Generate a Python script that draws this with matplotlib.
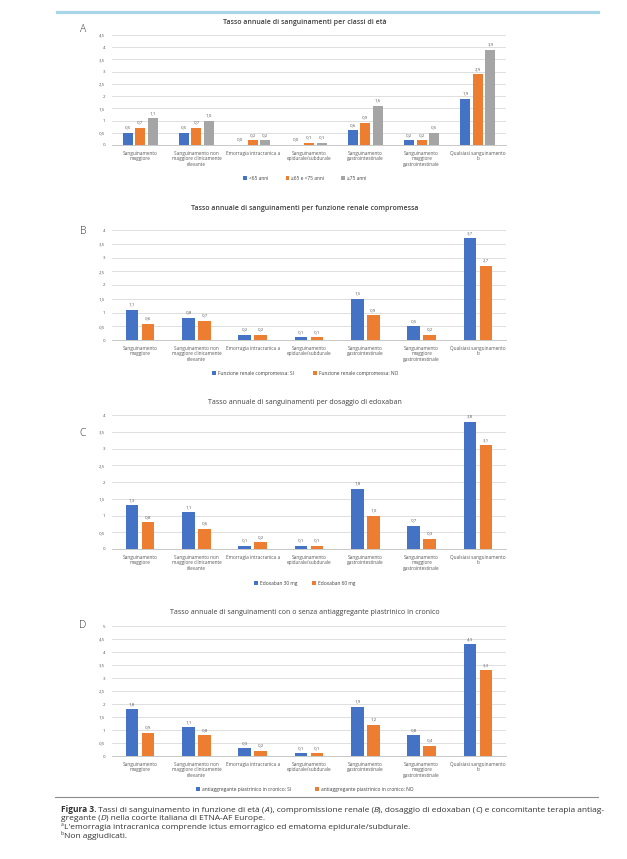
import matplotlib

matplotlib.use("Agg")
import matplotlib.pyplot as plt
from matplotlib.lines import Line2D
from matplotlib.patches import Patch

plt.rcParams["font.family"] = ["Open Sans", "DejaVu Sans"]

# categorie comuni ai quattro pannelli
categories = [
    "Sanguinamento\nmaggiore",
    "Sanguinamento non\nmaggiore clinicamente\nrilevante",
    "Emorragia intracranica a",
    "Sanguinamento\nepidurale/subdurale",
    "Sanguinamento\ngastrointestinale",
    "Sanguinamento\nmaggiore\ngastrointestinale",
    "Qualsiasi sanguinamento\nb",
]

# A - classi di età
age_labels = ["<65 anni", "≥65 e <75 anni", "≥75 anni"]
age_lt65 = [0.5, 0.5, 0.0, 0.0, 0.6, 0.2, 1.9]
age_65_75 = [0.7, 0.7, 0.2, 0.1, 0.9, 0.2, 2.9]
age_ge75 = [1.1, 1.0, 0.2, 0.1, 1.6, 0.5, 3.9]

# B - funzione renale
renal_labels = ["Funzione renale compromessa: SI", "Funzione renale compromessa: NO"]
renal_si = [1.1, 0.8, 0.2, 0.1, 1.5, 0.5, 3.7]
renal_no = [0.6, 0.7, 0.2, 0.1, 0.9, 0.2, 2.7]

# C - dosaggio edoxaban
dose_labels = ["Edoxaban 30 mg", "Edoxaban 60 mg"]
dose_30 = [1.3, 1.1, 0.1, 0.1, 1.8, 0.7, 3.8]
dose_60 = [0.8, 0.6, 0.2, 0.1, 1.0, 0.3, 3.1]

# D - antiaggregante
anti_labels = ["antiaggregante piastrinico in cronico: SI",
               "antiaggregante piastrinico in cronico: NO"]
anti_si = [1.8, 1.1, 0.3, 0.1, 1.9, 0.8, 4.3]
anti_no = [0.9, 0.8, 0.2, 0.1, 1.2, 0.4, 3.3]

BLUE = "#4472C4"
ORANGE = "#ED7D31"
GRAY = "#A5A5A5"
TXT = "#595959"

W, H = 627, 859
fig = plt.figure(figsize=(W / 100, H / 100), dpi=100)
renderer = fig.canvas.get_renderer()


def fy(py):
    return 1 - py / H


def comma(v):
    return f"{v:.1f}".replace(".", ",")


def tick_fmt(v):
    if abs(v - round(v)) < 1e-9:
        return str(int(round(v)))
    return f"{v:g}".replace(".", ",")


panels = [
    dict(letter="A", title="Tasso annuale di sanguinamenti per classi di età", bold=True,
         top=35, bottom=145, ymax=4.5, series=[age_lt65, age_65_75, age_ge75],
         labels=age_labels, colors=[BLUE, ORANGE, GRAY], title_y=23, letter_y=30,
         legend_y=178, width=0.178, step=0.224, colsp=3.5),
    dict(letter="B", title="Tasso annuale di sanguinamenti per funzione renale compromessa",
         bold=True, top=230, bottom=340, ymax=4.0, series=[renal_si, renal_no],
         labels=renal_labels, colors=[BLUE, ORANGE], title_y=208, letter_y=232,
         legend_y=373, width=0.225, step=0.284, colsp=4),
    dict(letter="C", title="Tasso annuale di sanguinamenti per dosaggio di edoxaban", bold=False,
         top=415, bottom=549, ymax=4.0, series=[dose_30, dose_60],
         labels=dose_labels, colors=[BLUE, ORANGE], title_y=403, letter_y=434,
         legend_y=583, width=0.225, step=0.284, colsp=3),
    dict(letter="D",
         title="Tasso annuale di sanguinamenti con o senza antiaggregante piastrinico in cronico",
         bold=False, top=626, bottom=756, ymax=5.0, series=[anti_si, anti_no],
         labels=anti_labels, colors=[BLUE, ORANGE], title_y=613, letter_y=625,
         legend_y=789, width=0.225, step=0.284, colsp=5),
]

left_px, right_px = 112, 506
cx = 305 / W

for p in panels:
    ax = fig.add_axes([left_px / W, fy(p["bottom"]), (right_px - left_px) / W,
                       (p["bottom"] - p["top"]) / H])
    n = len(p["series"])
    xs = list(range(len(categories)))
    for i, (vals, col) in enumerate(zip(p["series"], p["colors"])):
        off = (i - (n - 1) / 2) * p["step"]
        pos = [x + off for x in xs]
        ax.bar(pos, vals, width=p["width"], color=col, zorder=3)
        for x, v in zip(pos, vals):
            ax.annotate(comma(v), (x, v), xytext=(0, 2.5), textcoords="offset points",
                        ha="center", va="bottom", fontsize=3.2, color=TXT)
    ax.set_xlim(-0.5, len(categories) - 0.5)
    ax.set_ylim(0, p["ymax"])
    ticks = [k * 0.5 for k in range(int(p["ymax"] / 0.5) + 1)]
    ax.set_yticks(ticks)
    ax.set_yticklabels([tick_fmt(t) for t in ticks])
    ax.set_xticks(xs)
    ax.set_xticklabels(categories, fontsize=3.4, color=TXT, linespacing=1.15)
    ax.tick_params(axis="y", labelsize=3.2, labelcolor=TXT, length=0, pad=5)
    ax.tick_params(axis="x", length=0, pad=4)
    ax.grid(axis="y", color="#D9D9D9", linewidth=0.6, zorder=0)
    for s in ["top", "right", "left"]:
        ax.spines[s].set_visible(False)
    ax.spines["bottom"].set_color("#BFBFBF")
    ax.spines["bottom"].set_linewidth(0.6)

    fig.text(cx, fy(p["title_y"]), p["title"], ha="center", va="center", fontsize=5,
             color="#404040", fontweight="semibold" if p["bold"] else "normal")
    fig.text(83 / W, fy(p["letter_y"]), p["letter"], ha="center", va="center",
             fontsize=7.5, color="#333333", fontweight="light")

    handles = [Patch(facecolor=c, edgecolor="none") for c in p["colors"]]
    ax.legend(handles, p["labels"], loc="center", bbox_to_anchor=(cx, fy(p["legend_y"])),
              bbox_transform=fig.transFigure, ncol=n, frameon=False, fontsize=3.5,
              handlelength=0.8, handleheight=0.8, handletextpad=0.4,
              columnspacing=p["colsp"], labelcolor="#404040")

# barra azzurra in alto e linea di separazione
fig.add_artist(Line2D([57 / W, 598 / W], [fy(11.5), fy(11.5)], color="#A9D5E8", linewidth=2.3))
fig.add_artist(Line2D([55 / W, 598 / W], [fy(797), fy(797)], color="#8C8C8C", linewidth=0.8))

# didascalia: pezzi con stile diverso sulla stessa riga
CAP_FS = 6.0


def draw_line(x_px, y_px, pieces):
    x = x_px
    for txt, style in pieces:
        fs = CAP_FS
        y = y_px
        kw = {}
        if style == "b":
            kw["fontweight"] = "bold"
        elif style == "i":
            kw["fontstyle"] = "italic"
        elif style == "sup":
            fs = CAP_FS * 0.6
            y = y_px - 2.5
        t = fig.text(x / W, fy(y), txt, ha="left", va="baseline", fontsize=fs,
                     color="#333333", **kw)
        x += t.get_window_extent(renderer).width


caption = [
    [("Figura 3.", "b"),
     (" Tassi di sanguinamento in funzione di età (", ""), ("A", "i"),
     ("), compromissione renale (", ""), ("B", "i"), ("), dosaggio di edoxaban (", ""),
     ("C", "i"), (") e concomitante terapia antiag-", "")],
    [("gregante (", ""), ("D", "i"), (") nella coorte italiana di ETNA-AF Europe.", "")],
    [("a", "sup"),
     ("L'emorragia intracranica comprende ictus emorragico ed ematoma epidurale/subdurale.", "")],
    [("b", "sup"), ("Non aggiudicati.", "")],
]
for k, pieces in enumerate(caption):
    draw_line(61, 812 + k * 8.5, pieces)

fig.savefig("out.png", dpi=100)
